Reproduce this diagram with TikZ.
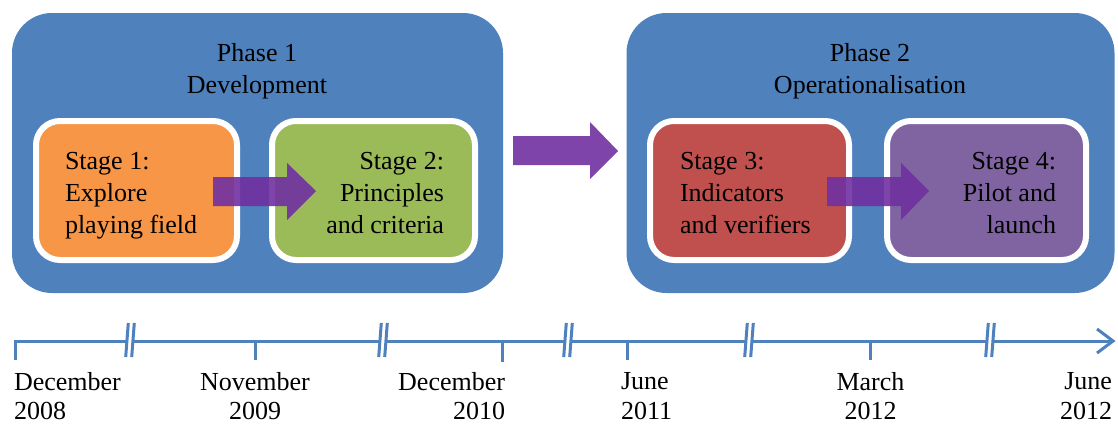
\documentclass[tikz,border=0pt]{standalone}
\usepackage{fontspec}
\setmainfont{Liberation Serif}
\definecolor{phaseblue}{HTML}{4F81BD}
\definecolor{st1}{HTML}{F79646}
\definecolor{st2}{HTML}{9BBB59}
\definecolor{st3}{HTML}{C0504D}
\definecolor{st4}{HTML}{8064A2}
\definecolor{arrowpurple}{HTML}{7030A0}
\tikzset{
  phasebox/.style={rectangle, rounded corners=40pt, fill=phaseblue, draw=none, inner sep=0pt,
    minimum height=280pt},
  stagebox/.style={rectangle, rounded corners=24pt, draw=white, line width=6pt, inner sep=0pt,
    minimum height=139pt, minimum width=199pt},
  txt/.style={inner sep=0pt, outer sep=0pt, text=black, font=\rmfamily\fontsize{26}{32}\selectfont},
  datetxt/.style={inner sep=0pt, outer sep=0pt, text=black, font=\rmfamily\fontsize{26}{29.5}\selectfont},
  blockarrow/.style={fill=arrowpurple, fill opacity=0.9, draw=none},
  tl/.style={draw=phaseblue, line width=3pt},
}
\begin{document}
\begin{tikzpicture}[x=1pt,y=-1pt]
\useasboundingbox (0,0) rectangle (1118,423);
% phases
\node[phasebox, minimum width=491pt] (ph1) at (257.5,153) {};
\node[phasebox, minimum width=488pt] (ph2) at (870.5,153) {};
\node[txt, align=center, anchor=north] (ph1t) at (257,43.2) {Phase 1\\Development};
\node[txt, align=center, anchor=north] (ph2t) at (870,43.2) {Phase 2\\Operationalisation};
% stages
\node[stagebox, fill=st1, minimum width=201pt] (s1) at (136.5,190.5) {};
\node[stagebox, fill=st2, minimum width=203pt] (s2) at (373.5,190.5) {};
\node[stagebox, fill=st3] (s3) at (749.5,190.5) {};
\node[stagebox, fill=st4] (s4) at (986.5,190.5) {};
\node[txt, align=left, anchor=north west] (s1t) at (65,152.2) {Stage 1:\\Explore\\playing field};
\node[txt, align=right, anchor=north east] (s2t) at (444,152.2) {Stage 2:\\Principles\\and criteria};
\node[txt, align=left, anchor=north west] (s3t) at (680,152.2) {Stage 3:\\Indicators\\and verifiers};
\node[txt, align=right, anchor=north east] (s4t) at (1056,152.2) {Stage 4:\\Pilot and\\launch};
% block arrows
\fill[blockarrow] (213,177) -- (287,177) -- (287,163) -- (316,191) -- (287,220) -- (287,206) -- (213,206) -- cycle;
\fill[blockarrow] (827,177) -- (901,177) -- (901,163) -- (929,191) -- (901,220) -- (901,206) -- (827,206) -- cycle;
\fill[blockarrow] (513,136) -- (590,136) -- (590,122) -- (618,151) -- (590,179) -- (590,165) -- (513,165) -- cycle;
% timeline
\coordinate (t0) at (15,341);
\draw[tl] (15,360) -- (t0) -- (127,341);
\draw[tl] (133,341) -- (380,341);
\draw[tl] (386,341) -- (565,341);
\draw[tl] (571,341) -- (746,341);
\draw[tl] (752,341) -- (987,341);
\draw[tl] (993,341) -- (1112,341);
\draw[tl, line join=miter] (1097,329) -- (1113,341) -- (1097,353);
% ticks
\draw[tl] (255,341) -- (255,360);
\draw[tl] (502,341) -- (502,362);
\draw[tl] (627,341) -- (627,360);
\draw[tl] (870,341) -- (870,360);
% breaks
\foreach \bx in {127,133,380,386,565,571,746,752,987,993}{
  \draw[tl] (\bx+1.3,323) -- (\bx-1.3,357);
}
% dates
\node[datetxt, align=left, anchor=north west] (d1) at (14,372) {December\\2008};
\node[datetxt, align=center, anchor=north] (d2) at (255,372) {November\\2009};
\node[datetxt, align=right, anchor=north east] (d3) at (505,372) {December\\2010};
\node[datetxt, align=left, anchor=north west] (d4) at (621,372.6) {June\\2011};
\node[datetxt, align=center, anchor=north] (d5) at (870.5,372) {March\\2012};
\node[datetxt, align=right, anchor=north east] (d6) at (1112,372.6) {June\\2012};
\end{tikzpicture}
\end{document}
